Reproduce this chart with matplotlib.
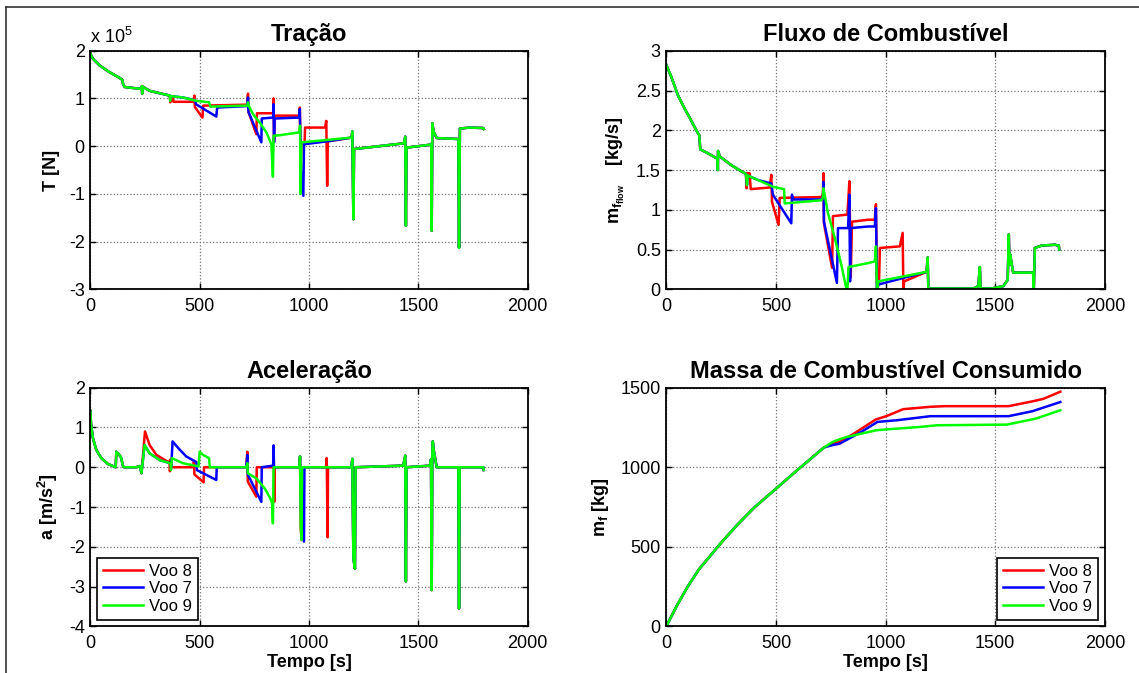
import matplotlib
matplotlib.use('Agg')

import matplotlib.pyplot as plt
from matplotlib.lines import Line2D
from matplotlib.ticker import FuncFormatter

plt.rcParams['font.family'] = ['Liberation Sans', 'DejaVu Sans']
plt.rcParams['mathtext.default'] = 'regular'
plt.rcParams['axes.unicode_minus'] = False

# ---- Tracao (valores em 1e5 N) ----
trac_head_t = [0, 12, 43, 88, 134, 146, 150, 157, 233, 236, 237, 239, 271, 363]
trac_head_v = [1.94, 1.83, 1.69, 1.55, 1.43, 1.39, 1.30, 1.24, 1.20, 1.26, 1.10, 1.25, 1.16, 1.06]

trac_tail_t = [1195, 1198, 1203, 1206, 1434, 1440, 1443, 1446, 1553, 1559, 1561, 1564,
               1570, 1584, 1683, 1686, 1690, 1735, 1797, 1799]
trac_tail_v = [0.18, 0.31, -1.53, -0.06, 0.06, 0.20, -1.67, -0.03, 0.03, 0.05, -1.77, 0.48,
               0.30, 0.17, 0.15, -2.13, 0.37, 0.39, 0.38, 0.36]

trac8_t = [366, 370, 378, 380, 470, 476, 478, 513, 516, 718, 721, 723, 759, 762, 836, 838,
           840, 843, 956, 958, 962, 965, 980, 982, 1073, 1079, 1083, 1086]
trac8_v = [0.92, 1.04, 1.04, 0.93, 0.93, 1.06, 0.82, 0.60, 0.85, 0.87, 1.10, 0.72, 0.25, 0.69,
           0.69, 1.00, 0.10, 0.64, 0.64, 0.81, -0.40, 0.05, 0.06, 0.39, 0.39, 0.53, -0.83, 0.10]

trac7_t = [366, 368, 424, 480, 483, 576, 580, 718, 721, 723, 782, 784, 836, 838, 840, 843,
           956, 958, 963, 974, 977, 1080]
trac7_v = [0.98, 1.05, 1.02, 0.96, 0.88, 0.62, 0.81, 0.84, 1.02, 0.72, 0.08, 0.58, 0.60, 0.88,
           0.08, 0.58, 0.60, 0.78, -0.50, -1.04, 0.04, 0.10]

trac9_t = [365, 367, 424, 485, 543, 549, 718, 721, 724, 744, 774, 805, 828, 835, 838, 867,
           956, 959, 962, 965, 1080]
trac9_v = [0.95, 1.05, 1.02, 0.95, 0.92, 0.83, 0.85, 0.92, 0.85, 0.67, 0.50, 0.29, 0.04, -0.64,
           0.22, 0.23, 0.29, 0.43, -1.00, 0.08, 0.13]

# ---- Fluxo de combustivel [kg/s] ----
flux_head_t = [0, 23, 53, 84, 114, 129, 145, 150, 155, 190, 228, 234, 235, 236, 244, 297, 363]
flux_head_v = [2.82, 2.67, 2.44, 2.27, 2.12, 2.04, 1.96, 1.94, 1.76, 1.71, 1.65, 1.64, 1.50,
               1.74, 1.67, 1.56, 1.45]

flux_tail_t = [1187, 1192, 1195, 1400, 1423, 1430, 1433, 1483, 1537, 1552, 1557, 1562, 1565,
               1568, 1582, 1673, 1676, 1681, 1711, 1772, 1790, 1792]
flux_tail_v = [0.22, 0.40, 0.01, 0.01, 0.04, 0.28, 0.01, 0.01, 0.04, 0.10, 0.12, 0.69, 0.31,
               0.44, 0.21, 0.21, 0.0, 0.52, 0.55, 0.56, 0.55, 0.50]

flux8_t = [366, 368, 380, 385, 471, 479, 482, 512, 517, 707, 714, 717, 719, 756, 760, 826,
           835, 841, 847, 920, 951, 956, 961, 970, 974, 1065, 1078, 1081, 1085]
flux8_v = [1.27, 1.46, 1.46, 1.26, 1.28, 1.44, 1.10, 0.81, 1.15, 1.16, 1.19, 1.46, 0.83, 0.27,
           0.92, 0.94, 1.36, 0.15, 0.85, 0.875, 0.875, 1.07, 0.0, 0.08, 0.52, 0.54, 0.71, 0.0,
           0.10]

flux7_t = [368, 371, 418, 479, 486, 570, 573, 578, 707, 714, 717, 719, 778, 783, 829, 835,
           838, 841, 920, 951, 956, 961, 967]
flux7_v = [1.31, 1.43, 1.375, 1.33, 1.19, 0.83, 1.19, 1.13, 1.13, 1.15, 1.35, 0.85, 0.08, 0.77,
           0.77, 1.19, 0.10, 0.77, 0.79, 0.79, 1.02, 0.0, 0.06]

flux9_t = [368, 371, 418, 486, 537, 540, 707, 714, 717, 737, 768, 798, 821, 826, 831, 920,
           951, 956, 961, 967]
flux9_v = [1.31, 1.43, 1.375, 1.29, 1.26, 1.08, 1.12, 1.15, 1.27, 0.96, 0.65, 0.31, 0.01, 0.0,
           0.28, 0.33, 0.35, 0.54, 0.0, 0.10]

# ---- Aceleracao [m/s^2] ----
acel_head_t = [0, 3, 12, 27, 50, 81, 116, 119, 130, 140, 150, 155, 210, 226, 234]
acel_head_v = [1.42, 1.10, 0.73, 0.44, 0.23, 0.08, 0.0, 0.39, 0.33, 0.25, 0.02, 0.0, 0.0,
               0.03, -0.15]

acel_tail_t = [1190, 1195, 1198, 1203, 1210, 1213, 1431, 1440, 1443, 1446, 1553, 1558, 1561,
               1564, 1566, 1570, 1584, 1683, 1686, 1689, 1797, 1799]
acel_tail_v = [0.0, 0.04, 0.21, -2.29, -2.55, 0.0, 0.04, 0.29, -2.87, 0.0, 0.04, 0.20, -3.09,
               0.40, 0.65, 0.44, 0.0, 0.0, -3.55, 0.0, 0.0, -0.07]

acel8_t = [250, 271, 302, 348, 362, 364, 367, 372, 470, 474, 476, 518, 520, 713, 718, 720,
           759, 761, 836, 838, 841, 843, 956, 959, 962, 966, 968, 1079, 1081, 1085, 1087]
acel8_v = [0.90, 0.56, 0.31, 0.16, 0.13, -0.10, 0.20, 0.0, 0.0, 0.16, -0.18, -0.38, 0.0, 0.0,
           0.39, -0.36, -0.74, 0.0, 0.0, 0.44, -0.87, 0.0, 0.0, 0.27, -1.5, -1.83, 0.0, 0.0,
           0.23, -1.76, 0.0]

acel7_t = [248, 271, 317, 366, 370, 376, 409, 439, 485, 487, 576, 578, 713, 718, 720, 782,
           784, 836, 838, 840, 956, 959, 965, 977, 979]
acel7_v = [0.56, 0.35, 0.18, 0.10, 0.0, 0.65, 0.44, 0.27, 0.13, -0.07, -0.32, 0.0, 0.0, 0.31,
           -0.18, -0.87, 0.0, 0.04, 0.55, 0.0, 0.0, 0.27, -1.5, -1.87, 0.0]

acel9_t = [248, 271, 317, 366, 369, 373, 424, 495, 500, 515, 543, 546, 713, 718, 720, 759,
           797, 823, 831, 835, 838, 956, 959, 962, 966, 968]
acel9_v = [0.56, 0.35, 0.18, 0.10, -0.07, 0.23, 0.10, 0.02, 0.39, 0.31, 0.23, 0.0, 0.0, 0.10,
           -0.15, -0.28, -0.53, -0.78, -0.90, -1.41, 0.0, 0.0, 0.27, -1.50, -1.83, 0.0]

# ---- Massa de combustivel consumido [kg] ----
massa_head_t = [0, 50, 100, 150, 250, 325, 400, 500, 600, 720]
massa_head_v = [0, 135, 255, 360, 525, 640, 745, 865, 985, 1125]

massa8_t = [760, 790, 855, 955, 1005, 1080, 1204, 1271, 1561, 1669, 1720, 1797]
massa8_v = [1150, 1160, 1211, 1300, 1322, 1365, 1380, 1384, 1384, 1414, 1430, 1475]
massa7_t = [760, 790, 889, 963, 1055, 1204, 1561, 1669, 1797]
massa7_v = [1140, 1148, 1222, 1285, 1296, 1321, 1321, 1352, 1410]
massa9_t = [760, 789, 822, 889, 955, 1005, 1154, 1237, 1553, 1686, 1797]
massa9_v = [1160, 1175, 1190, 1211, 1232, 1238, 1253, 1264, 1268, 1306, 1358]

labels = ['Voo 8', 'Voo 7', 'Voo 9']
cores = ['#ff0000', '#0000ff', '#00ff00']


def serie(head_t, head_v, mid_t, mid_v, tail_t=(), tail_v=()):
    return list(head_t) + list(mid_t) + list(tail_t), list(head_v) + list(mid_v) + list(tail_v)


def formatar(ax, titulo, ylabel, xlabel=None):
    ax.set_xlim(0, 2000)
    ax.set_xticks([0, 500, 1000, 1500, 2000])
    ax.set_title(titulo, fontsize=17, fontweight='bold', pad=7)
    ax.set_ylabel(ylabel, fontsize=13, fontweight='bold', labelpad=6.5)
    if xlabel:
        ax.set_xlabel(xlabel, fontsize=13, fontweight='bold', labelpad=2)
    ax.grid(True, color='0.45', linestyle=':', linewidth=0.9)
    ax.set_axisbelow(True)
    ax.tick_params(direction='in', length=4, width=1, top=True, right=True,
                   labelsize=13, pad=4)
    ax.tick_params(axis='x', pad=6)
    for s in ax.spines.values():
        s.set_linewidth(1.3)
        s.set_color('black')


fig = plt.figure(figsize=(11.39, 6.73), dpi=100)
w, h = 0.384, 0.3545
ax1 = fig.add_axes([0.0793, 0.5701, w, h])
ax2 = fig.add_axes([0.585, 0.5701, w + 0.001, h])
ax3 = fig.add_axes([0.0793, 0.0694, w, h])
ax4 = fig.add_axes([0.585, 0.0694, w + 0.001, h])

# Tracao
trac = [serie(trac_head_t, trac_head_v, trac8_t, trac8_v, trac_tail_t, trac_tail_v),
        serie(trac_head_t, trac_head_v, trac7_t, trac7_v, trac_tail_t, trac_tail_v),
        serie(trac_head_t, trac_head_v, trac9_t, trac9_v, trac_tail_t, trac_tail_v)]
for (t, v), c, lb in zip(trac, cores, labels):
    ax1.plot(t, [x * 1e5 for x in v], color=c, lw=1.8, label=lb)
ax1.set_ylim(-3e5, 2e5)
ax1.yaxis.set_major_formatter(FuncFormatter(lambda v, _: '%g' % (v / 1e5)))
formatar(ax1, 'Tração', 'T [N]')
ax1.text(0.0, 1.015, r'x 10$^{5}$', transform=ax1.transAxes, fontsize=13, ha='left', va='bottom')

# Fluxo de combustivel
flux = [serie(flux_head_t, flux_head_v, flux8_t, flux8_v, flux_tail_t, flux_tail_v),
        serie(flux_head_t, flux_head_v, flux7_t, flux7_v, flux_tail_t, flux_tail_v),
        serie(flux_head_t, flux_head_v, flux9_t, flux9_v, flux_tail_t, flux_tail_v)]
for (t, v), c, lb in zip(flux, cores, labels):
    ax2.plot(t, v, color=c, lw=1.8, label=lb)
ax2.set_ylim(0, 3)
ax2.set_yticks([0, 0.5, 1, 1.5, 2, 2.5, 3])
ax2.yaxis.set_major_formatter(FuncFormatter(lambda v, _: '%g' % v))
formatar(ax2, 'Fluxo de Combustível', r'm$_{f_{flow}}$    [kg/s]')

# Aceleracao
acel = [serie(acel_head_t, acel_head_v, acel8_t, acel8_v, acel_tail_t, acel_tail_v),
        serie(acel_head_t, acel_head_v, acel7_t, acel7_v, acel_tail_t, acel_tail_v),
        serie(acel_head_t, acel_head_v, acel9_t, acel9_v, acel_tail_t, acel_tail_v)]
for (t, v), c, lb in zip(acel, cores, labels):
    ax3.plot(t, v, color=c, lw=1.8, label=lb)
ax3.set_ylim(-4, 2)
ax3.set_yticks([-4, -3, -2, -1, 0, 1, 2])
formatar(ax3, 'Aceleração', r'a [m/s$^{2}$]', 'Tempo [s]')

# Massa consumida
massa = [serie(massa_head_t, massa_head_v, massa8_t, massa8_v),
         serie(massa_head_t, massa_head_v, massa7_t, massa7_v),
         serie(massa_head_t, massa_head_v, massa9_t, massa9_v)]
for (t, v), c, lb in zip(massa, cores, labels):
    ax4.plot(t, v, color=c, lw=1.8, label=lb)
ax4.set_ylim(0, 1500)
ax4.set_yticks([0, 500, 1000, 1500])
formatar(ax4, 'Massa de Combustível Consumido', r'm$_{f}$ [kg]', 'Tempo [s]')

for ax, loc in [(ax3, 'lower left'), (ax4, 'lower right')]:
    leg = ax.legend(loc=loc, fontsize=12, frameon=True, fancybox=False, framealpha=1,
                    edgecolor='black', handlelength=2.4, handletextpad=0.4,
                    labelspacing=0.15, borderpad=0.35, borderaxespad=0.4)
    leg.get_frame().set_linewidth(1.2)

# moldura da figura
fig.add_artist(Line2D([0.0057, 1.0], [0.9903, 0.9903], color='#333333', lw=1.2,
                      transform=fig.transFigure))
fig.add_artist(Line2D([0.0057, 0.0057], [0.0, 0.9903], color='#333333', lw=1.2,
                      transform=fig.transFigure))

fig.savefig('out.png', dpi=100)
plt.close(fig)
